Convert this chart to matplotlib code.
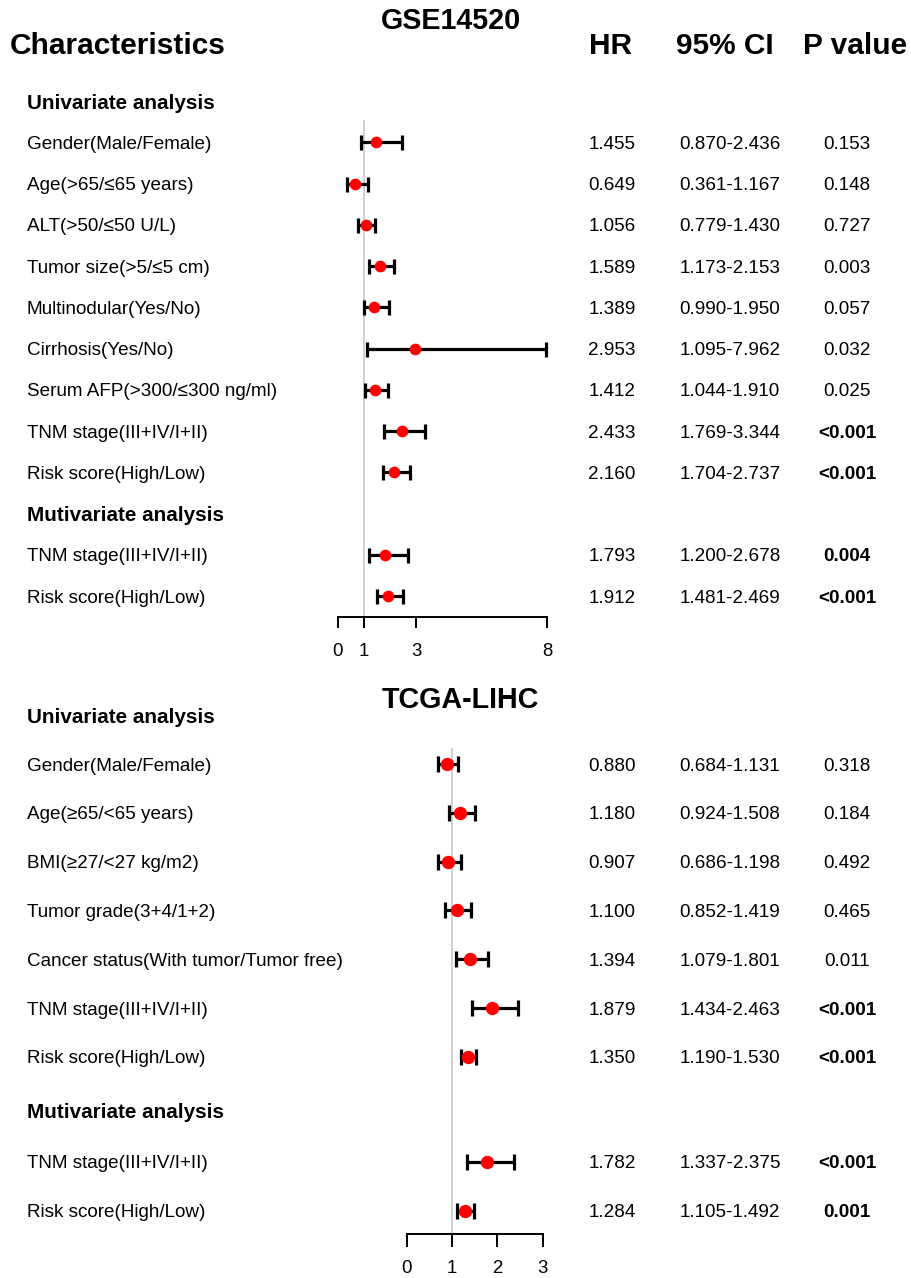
import matplotlib
matplotlib.use("Agg")
import matplotlib.pyplot as plt
from matplotlib.transforms import blended_transform_factory

plt.rcParams['font.family'] = ['Liberation Sans', 'DejaVu Sans']

W, H, DPI = 912, 1278, 100

# ---------------- GSE14520 cohort ----------------
gse_labels = [
    "Gender(Male/Female)", "Age(>65/\u226465 years)", "ALT(>50/\u226450 U/L)",
    "Tumor size(>5/\u22645 cm)", "Multinodular(Yes/No)", "Cirrhosis(Yes/No)",
    "Serum AFP(>300/\u2264300 ng/ml)", "TNM stage(III+IV/I+II)", "Risk score(High/Low)",
    "TNM stage(III+IV/I+II)", "Risk score(High/Low)",
]
gse_hr = [1.455, 0.649, 1.056, 1.589, 1.389, 2.953, 1.412, 2.433, 2.160, 1.793, 1.912]
gse_low = [0.870, 0.361, 0.779, 1.173, 0.990, 1.095, 1.044, 1.769, 1.704, 1.200, 1.481]
gse_high = [2.436, 1.167, 1.430, 2.153, 1.950, 7.962, 1.910, 3.344, 2.737, 2.678, 2.469]
gse_p = ["0.153", "0.148", "0.727", "0.003", "0.057", "0.032", "0.025",
         "<0.001", "<0.001", "0.004", "<0.001"]
gse_p_bold = [False, False, False, False, False, False, False, True, True, True, True]
gse_ticks = [0, 1, 3, 8]

# ---------------- TCGA-LIHC cohort ----------------
tcga_labels = [
    "Gender(Male/Female)", "Age(\u226565/<65 years)", "BMI(\u226527/<27 kg/m2)",
    "Tumor grade(3+4/1+2)", "Cancer status(With tumor/Tumor free)",
    "TNM stage(III+IV/I+II)", "Risk score(High/Low)",
    "TNM stage(III+IV/I+II)", "Risk score(High/Low)",
]
tcga_hr = [0.880, 1.180, 0.907, 1.100, 1.394, 1.879, 1.350, 1.782, 1.284]
tcga_low = [0.684, 0.924, 0.686, 0.852, 1.079, 1.434, 1.190, 1.337, 1.105]
tcga_high = [1.131, 1.508, 1.198, 1.419, 1.801, 2.463, 1.530, 2.375, 1.492]
tcga_p = ["0.318", "0.184", "0.492", "0.465", "0.011", "<0.001", "<0.001",
          "<0.001", "0.001"]
tcga_p_bold = [False, False, False, False, False, True, True, True, True]
tcga_ticks = [0, 1, 2, 3]

fig = plt.figure(figsize=(W / DPI, H / DPI), dpi=DPI)


def fx(px):
    return px / W


def fy(py):
    return 1 - py / H


def panel(rect_px, xlim, ticks, ylim, rows, uni_row, multi_row,
          labels, hr, lo, hi, pvals, pbold, ms, cap, tick_len, pad):
    x0, y0, x1, y1 = rect_px
    ax = fig.add_axes([fx(x0), fy(y1), (x1 - x0) / W, (y1 - y0) / H])
    ax.set_xlim(*xlim)
    ax.set_ylim(*ylim)
    for s in ("top", "left", "right"):
        ax.spines[s].set_visible(False)
    ax.spines["bottom"].set_linewidth(1.4)
    ax.set_xticks(ticks)
    ax.set_xticklabels([str(t) for t in ticks])
    ax.set_yticks([])
    ax.tick_params(axis="x", length=tick_len, width=1.4, direction="out",
                   labelsize=13.4, pad=pad)
    ax.patch.set_visible(False)
    ax.axvline(1, color="#c4c4c4", lw=1.1, zorder=1)

    xerr = [[h - l for h, l in zip(hr, lo)], [u - h for h, u in zip(hr, hi)]]
    ax.errorbar(hr, rows, xerr=xerr, fmt="o", color="#ff0000", ms=ms,
                ecolor="black", elinewidth=2.3, capsize=cap, capthick=2.3,
                zorder=3, clip_on=False)

    tr = blended_transform_factory(fig.transFigure, ax.transData)
    ax.text(fx(27), uni_row, "Univariate analysis", transform=tr, fontsize=14.9,
            fontweight="bold", va="center_baseline", ha="left")
    ax.text(fx(27), multi_row, "Mutivariate analysis", transform=tr, fontsize=14.9,
            fontweight="bold", va="center_baseline", ha="left")
    for y, lab, h, l, u, p, b in zip(rows, labels, hr, lo, hi, pvals, pbold):
        ax.text(fx(27), y, lab, transform=tr, fontsize=13.6,
                va="center_baseline", ha="left")
        ax.text(fx(612), y, f"{h:.3f}", transform=tr, fontsize=13.6,
                va="center_baseline", ha="center")
        ax.text(fx(730), y, f"{l:.3f}-{u:.3f}", transform=tr, fontsize=13.6,
                va="center_baseline", ha="center")
        ax.text(fx(847), y, p, transform=tr, fontsize=13.6, va="center_baseline",
                ha="center", fontweight="bold" if b else "normal")
    return ax


# Top panel: row i sits at 142.5 + 41.25*i px
gse_rows = [0, 1, 2, 3, 4, 5, 6, 7, 8, 10, 11]
panel((338, 120, 547, 617), (0, 8), gse_ticks, (11.503, -0.545), gse_rows,
      -1, 9, gse_labels, gse_hr, gse_low, gse_high, gse_p, gse_p_bold,
      ms=7.4, cap=5.4, tick_len=8, pad=11)

# Bottom panel: row i sits at 764 + 48.8*i px
tcga_rows = [0, 1, 2, 3, 4, 5, 6, 8.15, 9.15]
panel((406.7, 748, 542.7, 1234.3), (0, 3), tcga_ticks, (9.637, -0.328), tcga_rows,
      -1, 7.09, tcga_labels, tcga_hr, tcga_low, tcga_high, tcga_p, tcga_p_bold,
      ms=8.6, cap=6.0, tick_len=9, pad=9.5)

# Headers and titles
fig.text(fx(451), fy(21), "GSE14520", fontsize=20.7, fontweight="bold",
         ha="center", va="center")
fig.text(fx(10), fy(46), "Characteristics", fontsize=21.5, fontweight="bold",
         ha="left", va="center")
fig.text(fx(611), fy(46), "HR", fontsize=21.5, fontweight="bold",
         ha="center", va="center")
fig.text(fx(725), fy(46), "95% CI", fontsize=21.5, fontweight="bold",
         ha="center", va="center")
fig.text(fx(855), fy(46), "P value", fontsize=21.5, fontweight="bold",
         ha="center", va="center")
fig.text(fx(460), fy(700), "TCGA-LIHC", fontsize=20.7, fontweight="bold",
         ha="center", va="center")

fig.savefig("out.png", dpi=DPI, facecolor="white")
